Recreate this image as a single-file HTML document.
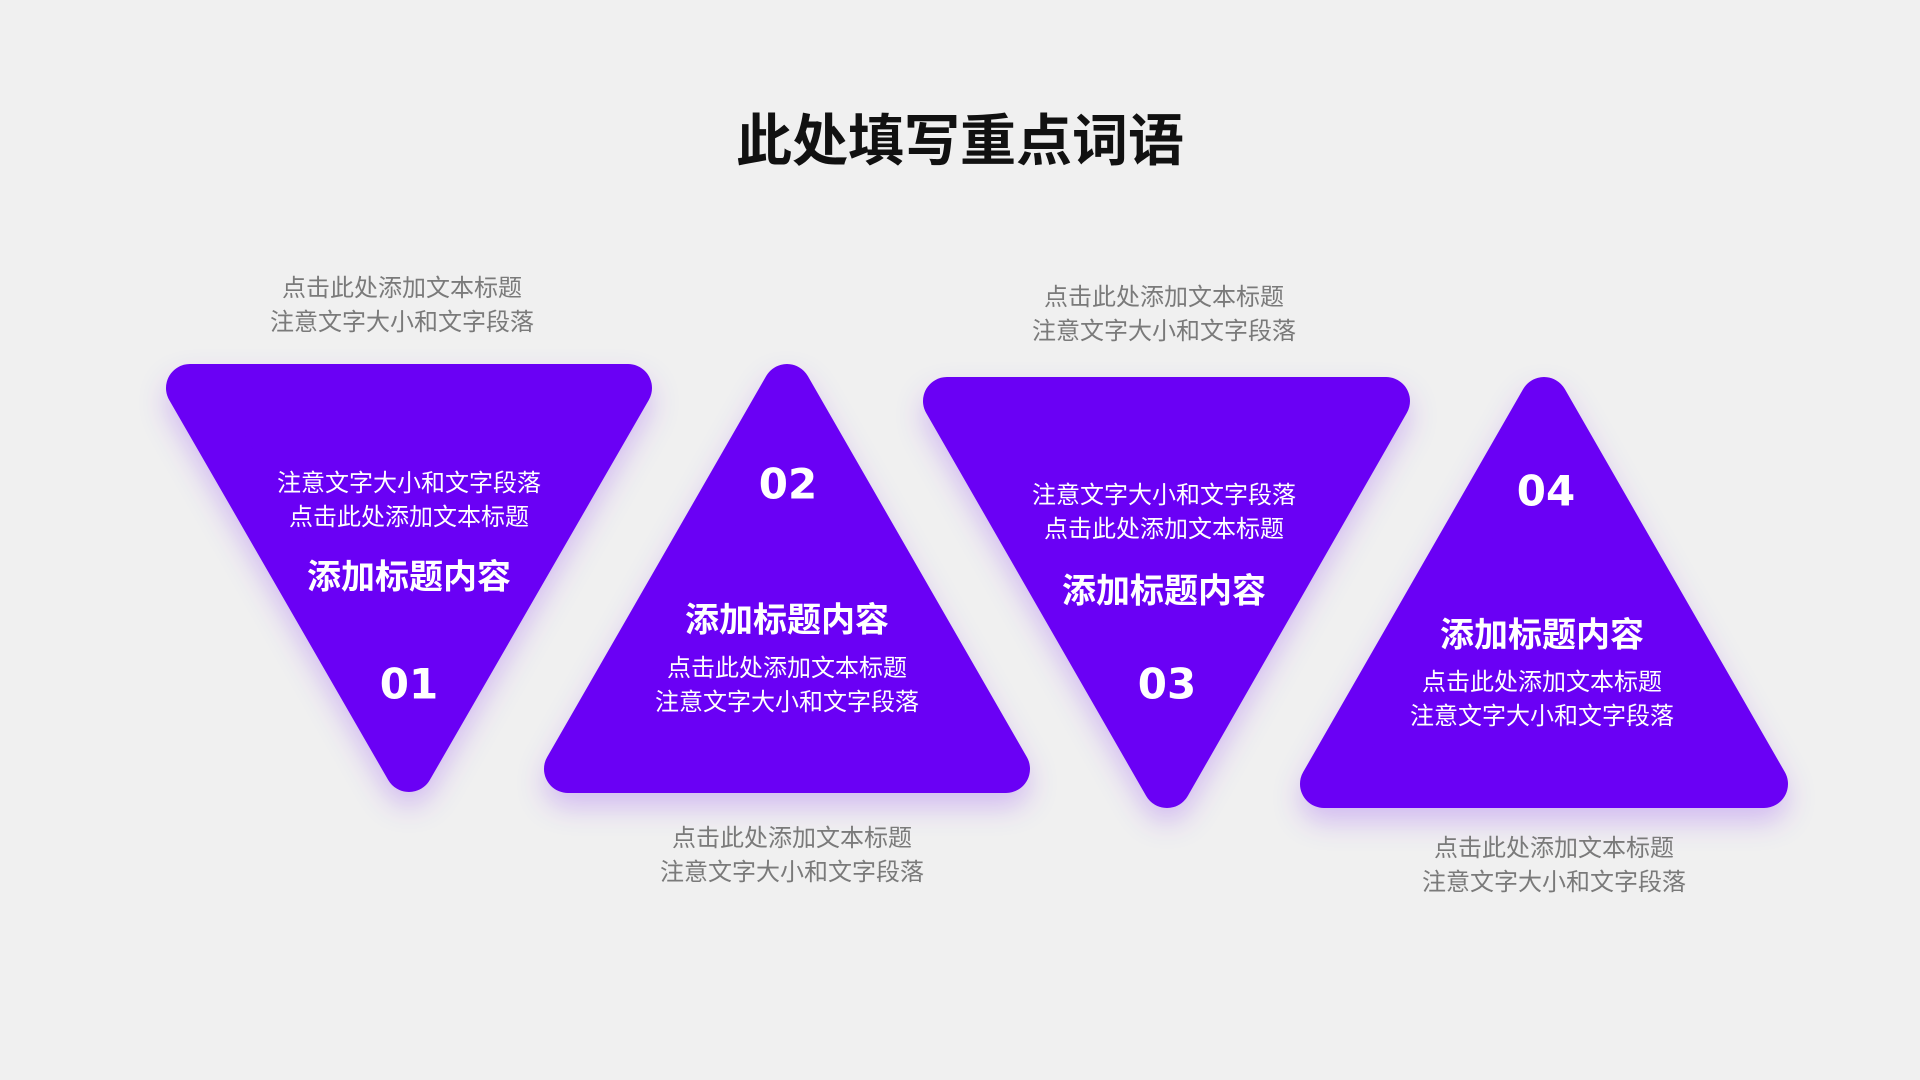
<!DOCTYPE html>
<html><head><meta charset="utf-8"><style>
html,body{margin:0;padding:0}
body{width:1920px;height:1080px;background:#f0f0f0;position:relative;overflow:hidden;font-family:"Liberation Sans","Noto Sans CJK SC",sans-serif}
.t{position:absolute;transform:translate(-50%,-50%);white-space:nowrap;text-align:center}
.g{color:#7a7a7a;font-size:24px;line-height:34px}
.w{color:#fff;font-size:24px;line-height:34px}
.h{color:#fff;font-size:34px;font-weight:bold}
.n{color:#fff;font-size:42px;font-weight:bold;font-family:"DejaVu Sans","Liberation Sans",sans-serif}
</style></head><body>
<svg width="1920" height="1080" style="position:absolute;left:0;top:0">
<defs><filter id="s" x="-20%" y="-20%" width="140%" height="150%"><feDropShadow dx="0" dy="14" stdDeviation="14" flood-color="#6a06f5" flood-opacity="0.22"/></filter></defs>
<g fill="#6a06f5" stroke="#6a06f5" stroke-width="48" stroke-linejoin="round" filter="url(#s)">
<polygon points="190,388 628,388 409,768"/>
<polygon points="787,388 1006,769 568,769"/>
<polygon points="947,401 1386,401 1167,784"/>
<polygon points="1544,401 1764,784 1324,784"/>
</g></svg>
<div class="t" style="left:960px;top:137px;font-size:56px;font-weight:bold;color:#111">此处填写重点词语</div>

<div class="t g" style="left:402px;top:306px">点击此处添加文本标题<br>注意文字大小和文字段落</div>
<div class="t w" style="left:409px;top:501px">注意文字大小和文字段落<br>点击此处添加文本标题</div>
<div class="t h" style="left:409px;top:574px">添加标题内容</div>
<div class="t n" style="left:409px;top:684px">01</div>

<div class="t n" style="left:788px;top:484px">02</div>
<div class="t h" style="left:787px;top:617px">添加标题内容</div>
<div class="t w" style="left:787px;top:686px">点击此处添加文本标题<br>注意文字大小和文字段落</div>
<div class="t g" style="left:792px;top:856px">点击此处添加文本标题<br>注意文字大小和文字段落</div>

<div class="t g" style="left:1164px;top:315px">点击此处添加文本标题<br>注意文字大小和文字段落</div>
<div class="t w" style="left:1164px;top:513px">注意文字大小和文字段落<br>点击此处添加文本标题</div>
<div class="t h" style="left:1164px;top:588px">添加标题内容</div>
<div class="t n" style="left:1167px;top:684px">03</div>

<div class="t n" style="left:1546px;top:491px">04</div>
<div class="t h" style="left:1542px;top:632px">添加标题内容</div>
<div class="t w" style="left:1542px;top:700px">点击此处添加文本标题<br>注意文字大小和文字段落</div>
<div class="t g" style="left:1554px;top:866px">点击此处添加文本标题<br>注意文字大小和文字段落</div>
</body></html>
